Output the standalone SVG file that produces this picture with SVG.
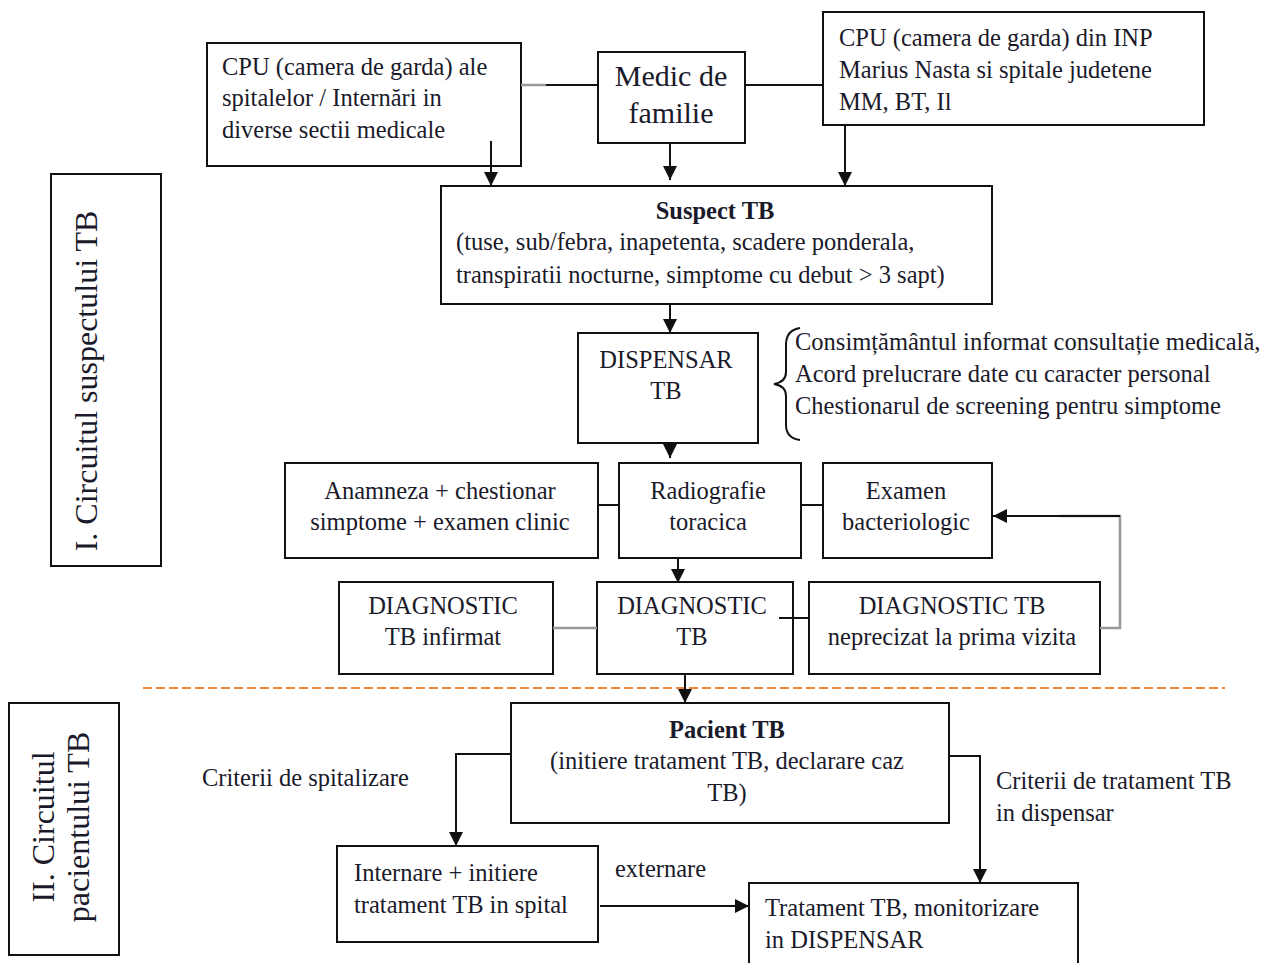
<svg xmlns="http://www.w3.org/2000/svg" width="1272" height="963" viewBox="0 0 1272 963">
<style>
.b{fill:#fff;stroke:#111;stroke-width:2}
.t{font-family:"Liberation Serif","Times New Roman",serif;font-size:24.5px;fill:#1a1a2a}
.c{text-anchor:middle}
.bd{font-weight:bold}
.big{font-size:32px}
.ln{fill:none;stroke:#111;stroke-width:2}
.gr{fill:none;stroke:#999;stroke-width:2.5}
</style>
<defs>
<marker id="arL" viewBox="0 0 10 10" refX="10" refY="5" markerWidth="14" markerHeight="14" orient="auto" markerUnits="userSpaceOnUse"><path d="M0,0 L10,5 L0,10 z" fill="#111"/></marker>
</defs>
<rect width="1272" height="963" fill="#fff"/>

<g id="n-cpu1"><rect class="b" x="207" y="43" width="314" height="123"/>
<text class="t" x="222" y="75">CPU (camera de garda) ale</text>
<text class="t" x="222" y="106">spitalelor / Internări in</text>
<text class="t" x="222" y="138">diverse sectii medicale</text></g>

<g id="n-medic"><rect class="b" x="598" y="52" width="147" height="91"/>
<text class="t c" x="671" y="86" style="font-size:30px">Medic de</text>
<text class="t c" x="671" y="123" style="font-size:30px">familie</text></g>

<g id="n-cpu2"><rect class="b" x="823" y="12" width="381" height="113"/>
<text class="t" x="839" y="46">CPU (camera de garda) din INP</text>
<text class="t" x="839" y="78">Marius Nasta si spitale judetene</text>
<text class="t" x="839" y="110">MM, BT, Il</text></g>

<g id="n-suspect"><rect class="b" x="441" y="186" width="551" height="118"/>
<text class="t c bd" x="715" y="219">Suspect TB</text>
<text class="t" x="456" y="250">(tuse, sub/febra, inapetenta, scadere ponderala,</text>
<text class="t" x="456" y="283">transpiratii nocturne, simptome cu debut &gt; 3 sapt)</text></g>

<g id="n-dispensar"><rect class="b" x="578" y="333" width="180" height="110"/>
<text class="t c" x="666" y="368">DISPENSAR</text>
<text class="t c" x="666" y="399">TB</text></g>

<g id="n-brace-text">
<text class="t" x="795" y="350">Consimțământul informat consultație medicală,</text>
<text class="t" x="795" y="382">Acord prelucrare date cu caracter personal</text>
<text class="t" x="795" y="414">Chestionarul de screening pentru simptome</text></g>

<g id="n-anamneza"><rect class="b" x="285" y="463" width="313" height="95"/>
<text class="t c" x="440" y="499">Anamneza + chestionar</text>
<text class="t c" x="440" y="530">simptome + examen clinic</text></g>

<g id="n-radio"><rect class="b" x="619" y="463" width="182" height="95"/>
<text class="t c" x="708" y="499">Radiografie</text>
<text class="t c" x="708" y="530">toracica</text></g>

<g id="n-examen"><rect class="b" x="823" y="463" width="169" height="95"/>
<text class="t c" x="906" y="499">Examen</text>
<text class="t c" x="906" y="530">bacteriologic</text></g>

<g id="n-infirmat"><rect class="b" x="339" y="582" width="214" height="92"/>
<text class="t c" x="443" y="614">DIAGNOSTIC</text>
<text class="t c" x="443" y="645">TB infirmat</text></g>

<g id="n-diag"><rect class="b" x="597" y="582" width="196" height="92"/>
<text class="t c" x="692" y="614">DIAGNOSTIC</text>
<text class="t c" x="692" y="645">TB</text></g>

<g id="n-neprecizat"><rect class="b" x="809" y="582" width="291" height="92"/>
<text class="t c" x="952" y="614">DIAGNOSTIC TB</text>
<text class="t c" x="952" y="645">neprecizat la prima vizita</text></g>

<g id="n-sec1"><rect class="b" x="51" y="174" width="110" height="392"/>
<text class="t c big" transform="translate(97,381) rotate(-90)">I. Circuitul suspectului TB</text></g>

<g id="n-sec2"><rect class="b" x="9" y="703" width="110" height="252"/>
<text class="t c big" transform="translate(54,827) rotate(-90)">II. Circuitul</text>
<text class="t c big" transform="translate(89,827) rotate(-90)">pacientului TB</text></g>

<g id="n-pacient"><rect class="b" x="511" y="703" width="438" height="120"/>
<text class="t c bd" x="727" y="738">Pacient TB</text>
<text class="t c" x="727" y="769">(initiere tratament TB, declarare caz</text>
<text class="t c" x="727" y="801">TB)</text></g>

<g id="n-lbl-spit"><text class="t" x="202" y="786">Criterii de spitalizare</text></g>
<g id="n-lbl-disp"><text class="t" x="996" y="789">Criterii de tratament TB</text>
<text class="t" x="996" y="821">in dispensar</text></g>

<g id="n-internare"><rect class="b" x="337" y="846" width="261" height="96"/>
<text class="t" x="354" y="881">Internare + initiere</text>
<text class="t" x="354" y="913">tratament TB in spital</text></g>

<g id="n-lbl-ext"><text class="t" x="615" y="877">externare</text></g>

<g id="n-tratament"><rect class="b" x="749" y="883" width="329" height="90"/>
<text class="t" x="765" y="916">Tratament TB, monitorizare</text>
<text class="t" x="765" y="948">in DISPENSAR</text></g>

<g id="connectors">
<line class="gr" x1="521" y1="85" x2="546" y2="85"/>
<line class="ln" x1="546" y1="85" x2="598" y2="85"/>
<line class="ln" x1="745" y1="85" x2="823" y2="85"/>
<line class="ln" x1="491" y1="141" x2="491" y2="186" marker-end="url(#arL)"/>
<line class="ln" x1="670" y1="143" x2="670" y2="180" marker-end="url(#arL)"/>
<line class="ln" x1="845" y1="125" x2="845" y2="186" marker-end="url(#arL)"/>
<line class="ln" x1="670" y1="304" x2="670" y2="333" marker-end="url(#arL)"/>
<line class="ln" x1="670" y1="443" x2="670" y2="458" marker-end="url(#arL)"/>
<line class="ln" x1="598" y1="505" x2="619" y2="505"/>
<line class="ln" x1="801" y1="505" x2="823" y2="505"/>
<line class="ln" x1="678" y1="558" x2="678" y2="583" marker-end="url(#arL)"/>
<line class="gr" x1="553" y1="628" x2="597" y2="628"/>
<line class="ln" x1="779" y1="618" x2="809" y2="618"/>
<polyline class="gr" points="1100,628 1120,628 1120,516 1060,516"/>
<line class="ln" x1="1120" y1="516" x2="993" y2="516" marker-end="url(#arL)"/>
<line x1="143" y1="688" x2="1225" y2="688" stroke="#f0883a" stroke-width="2" stroke-dasharray="9,4"/>
<line class="ln" x1="685" y1="674" x2="685" y2="703" marker-end="url(#arL)"/>
<polyline class="ln" points="511,754 456,754 456,846" marker-end="url(#arL)"/>
<polyline class="ln" points="949,756 980,756 980,883" marker-end="url(#arL)"/>
<line class="ln" x1="600" y1="906" x2="749" y2="906" marker-end="url(#arL)"/>
<path class="ln" d="M800,328 Q786,330 786,345 L786,372 Q786,382 774,384 Q786,386 786,396 L786,425 Q786,438 800,440" stroke-width="1.5"/>
</g>
</svg>
